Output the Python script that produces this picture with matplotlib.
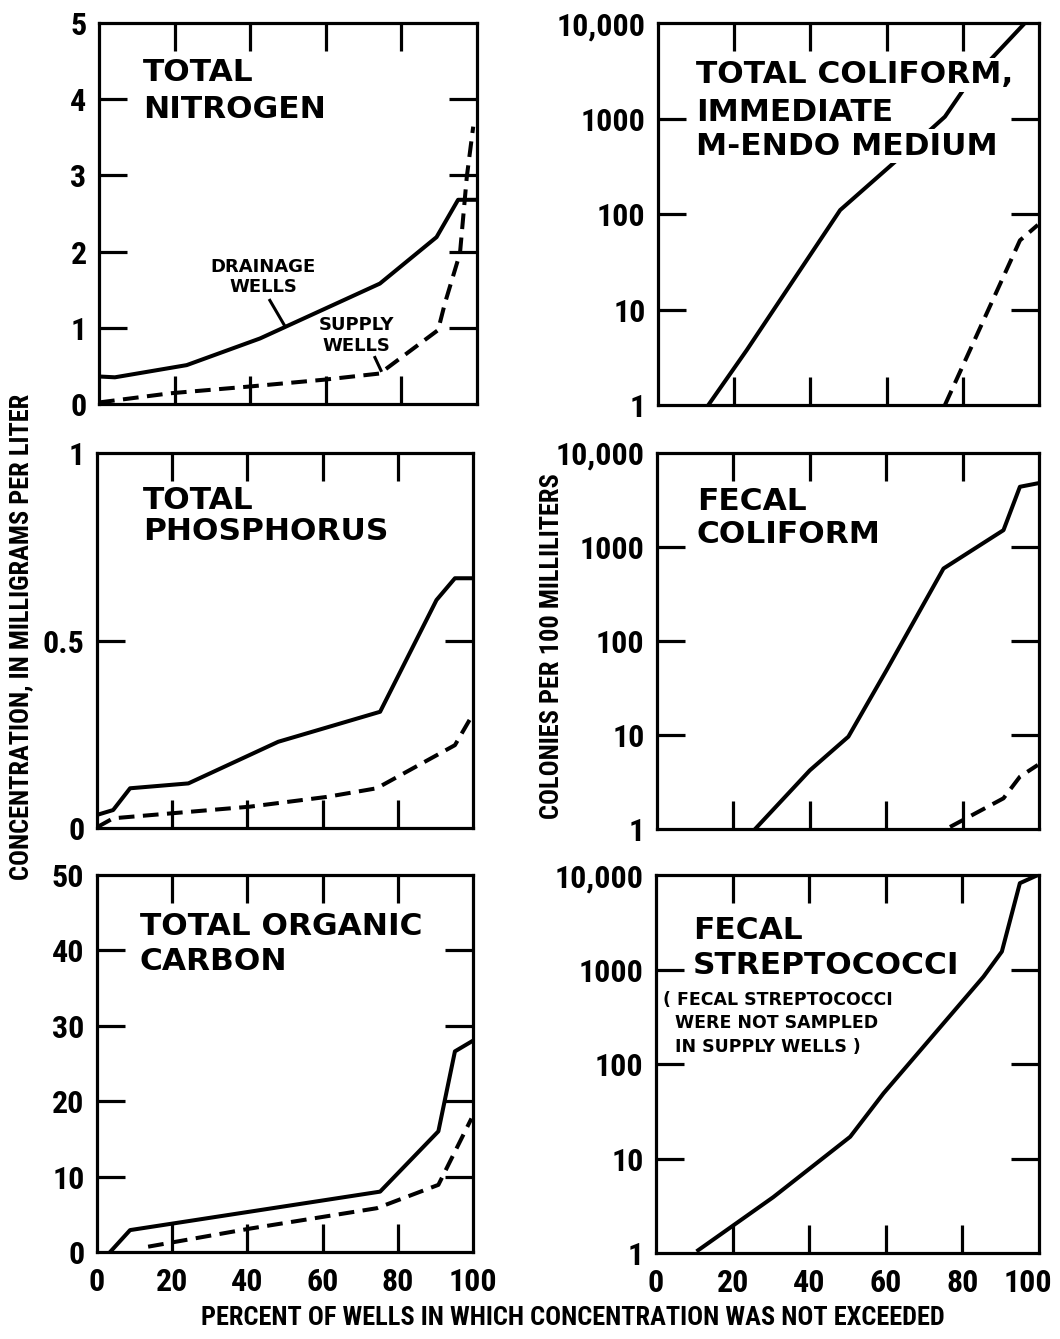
import matplotlib
matplotlib.use("Agg")
import matplotlib.pyplot as plt
from matplotlib import font_manager
from matplotlib.transforms import ScaledTranslation

# ---------------- data ----------------
pct_ticks = [0, 20, 40, 60, 80, 100]
pct_tick_labels = ["0", "20", "40", "60", "80", "100"]

# Total nitrogen (mg/L)
tn_drain_x = [0.3, 4.2, 23.2, 42.6, 74.3, 89.3, 95.0, 100.0]
tn_drain_y = [0.36, 0.35, 0.51, 0.86, 1.58, 2.19, 2.68, 2.68]
tn_supply_x = [0.0, 18.8, 40.0, 59.8, 74.3, 89.7, 91.5, 95.5, 97.3, 99.0]
tn_supply_y = [0.02, 0.14, 0.23, 0.32, 0.40, 0.97, 1.32, 1.98, 2.98, 3.64]
tn_ticks = [0, 1, 2, 3, 4, 5]
tn_labels = ["0", "1", "2", "3", "4", "5"]

# Total phosphorus (mg/L)
tp_drain_x = [0.0, 4.3, 8.8, 24.3, 48.2, 75.3, 90.3, 95.2, 100.0]
tp_drain_y = [0.035, 0.048, 0.106, 0.119, 0.23, 0.31, 0.608, 0.666, 0.666]
tp_supply_x = [0.0, 4.3, 40.7, 61.1, 74.4, 95.2, 99.6]
tp_supply_y = [0.002, 0.026, 0.057, 0.083, 0.106, 0.221, 0.297]
tp_ticks = [0, 0.5, 1]
tp_labels = ["0", "0.5", "1"]

# Total organic carbon (mg/L)
toc_drain_x = [3.5, 8.8, 75.3, 90.8, 95.2, 99.6]
toc_drain_y = [0.0, 2.9, 8.0, 16.0, 26.6, 27.9]
toc_supply_x = [13.6, 40.7, 74.4, 90.8, 99.6]
toc_supply_y = [0.7, 3.1, 5.8, 8.9, 17.7]
toc_ticks = [0, 10, 20, 30, 40, 50]
toc_labels = ["0", "10", "20", "30", "40", "50"]

# Total coliform, immediate M-Endo medium (colonies / 100 mL)
tc_drain_x = [13.2, 23.3, 47.8, 62.7, 75.3, 81.0, 96.3]
tc_drain_y = [1.0, 3.77, 110, 367, 1045, 2240, 10000]
tc_supply_x = [75.3, 95.0, 99.7]
tc_supply_y = [1.0, 53, 77]

# Fecal coliform
fc_drain_x = [25.7, 40.0, 50.1, 60.1, 75.0, 90.7, 95.0, 99.7]
fc_drain_y = [1.0, 4.2, 9.6, 49, 590, 1510, 4370, 4760]
fc_supply_x = [76.7, 90.7, 95.0, 99.7]
fc_supply_y = [1.05, 2.12, 3.6, 4.8]

# Fecal streptococci
fs_drain_x = [11.0, 30.6, 50.7, 59.4, 85.5, 90.3, 95.0, 99.7]
fs_drain_y = [1.07, 3.9, 17, 49, 840, 1550, 8200, 10000]

log_ticks = [1, 10, 100, 1000, 10000]
log_labels = ["1", "10", "100", "1000", "10,000"]

# ---------------- fonts ----------------
fl = font_manager.fontManager.ttflist
names = {f.name for f in fl}
NARROW_KW = None
for cand in ["Liberation Sans Narrow", "Roboto Condensed", "Open Sans Condensed",
             "Noto Sans Condensed", "Arial Narrow"]:
    if cand in names:
        NARROW_KW = dict(family=[cand, "DejaVu Sans"])
        NARROW_SCALE = 1.0
        break
if NARROW_KW is None:
    if any(f.name == "DejaVu Sans" and "condensed" in str(f.stretch) for f in fl):
        NARROW_KW = dict(family=["DejaVu Sans"], stretch="condensed")
        NARROW_SCALE = 0.85
    else:
        NARROW_KW = dict(family=["DejaVu Sans"])
        NARROW_SCALE = 0.68
WIDE = ["DejaVu Sans"]

TICK_FS = 23 * NARROW_SCALE if NARROW_SCALE < 1 else 23
TICK_FS = 15.5 if NARROW_SCALE < 0.7 else TICK_FS
LABEL_FS = 14 if NARROW_SCALE < 0.7 else 19

LW = 2.9
DASH = (0, (3.9, 2.1))

fig = plt.figure(figsize=(10.6, 13.39), dpi=100)

positions = {
    "tl": [0.0934, 0.6983, 0.3566, 0.2845],
    "tr": [0.6208, 0.6975, 0.3594, 0.2853],
    "ml": [0.0915, 0.3816, 0.3547, 0.2801],
    "mr": [0.6198, 0.3809, 0.3604, 0.2808],
    "bl": [0.0915, 0.0650, 0.3547, 0.2816],
    "br": [0.6189, 0.0642, 0.3613, 0.2823],
}


def style_axes(ax, yticks, ylabels, ylim, log=False, bottom_labels=False):
    if log:
        ax.set_yscale("log")
    ax.set_xlim(0, 100)
    ax.set_ylim(*ylim)
    ax.set_xticks(pct_ticks)
    ax.set_xticklabels(pct_tick_labels if bottom_labels else [""] * len(pct_ticks))
    ax.set_yticks(yticks)
    ax.set_yticklabels(ylabels)
    ax.minorticks_off()
    for s in ax.spines.values():
        s.set_linewidth(2.3)
    ax.tick_params(axis="both", which="major", direction="in", length=20,
                   width=2.3, top=True, right=True, colors="black")
    ax.tick_params(axis="y", pad=9)
    ax.tick_params(axis="x", pad=11)
    for lab in ax.get_xticklabels() + ax.get_yticklabels():
        lab.set_fontproperties(font_manager.FontProperties(weight="bold", size=TICK_FS, **NARROW_KW))
    # no tick marks at the corners
    for t in (ax.xaxis.get_major_ticks()[0], ax.xaxis.get_major_ticks()[-1],
              ax.yaxis.get_major_ticks()[0], ax.yaxis.get_major_ticks()[-1]):
        t.tick1line.set_visible(False)
        t.tick2line.set_visible(False)


def title(ax, lines, x, ys, size=22.5):
    for line, y in zip(lines, ys):
        ax.text(x, y, line, transform=ax.transAxes, ha="left", va="center",
                family=WIDE, fontweight="bold", fontsize=size, zorder=5,
                bbox=dict(facecolor="white", edgecolor="none", pad=1.5))


def note(ax, lines, x, ys, size=13, ha="left", transform=None):
    for line, y in zip(lines, ys):
        ax.text(x, y, line, transform=transform or ax.transAxes, ha=ha, va="center",
                family=WIDE, fontweight="bold", fontsize=size, zorder=5)


# Total nitrogen
ax = fig.add_axes(positions["tl"])
ax.plot(tn_drain_x, tn_drain_y, color="black", lw=LW)
ax.plot(tn_supply_x, tn_supply_y, color="black", lw=LW, linestyle=DASH)
style_axes(ax, tn_ticks, tn_labels, (0, 5))
title(ax, ["TOTAL", "NITROGEN"], 0.116, [0.869, 0.772])
note(ax, ["DRAINAGE", "WELLS"], 43.4, [1.80, 1.54], ha="center", transform=ax.transData)
ax.plot([45.2, 49.2], [1.36, 1.02], color="black", lw=2.2)
note(ax, ["SUPPLY", "WELLS"], 68.2, [1.04, 0.76], ha="center", transform=ax.transData)
ax.plot([73.0, 74.6], [0.61, 0.44], color="black", lw=2.2)

# Total coliform
ax = fig.add_axes(positions["tr"])
ax.plot(tc_drain_x, tc_drain_y, color="black", lw=LW)
ax.plot(tc_supply_x, tc_supply_y, color="black", lw=LW, linestyle=DASH)
style_axes(ax, log_ticks, log_labels, (1, 10000), log=True)
title(ax, ["TOTAL COLIFORM,", "IMMEDIATE", "M-ENDO MEDIUM"], 0.10, [0.864, 0.767, 0.678])

# Total phosphorus
ax = fig.add_axes(positions["ml"])
ax.plot(tp_drain_x, tp_drain_y, color="black", lw=LW)
ax.plot(tp_supply_x, tp_supply_y, color="black", lw=LW, linestyle=DASH)
style_axes(ax, tp_ticks, tp_labels, (0, 1))
title(ax, ["TOTAL", "PHOSPHORUS"], 0.122, [0.872, 0.790])

# Fecal coliform
ax = fig.add_axes(positions["mr"])
ax.plot(fc_drain_x, fc_drain_y, color="black", lw=LW)
ax.plot(fc_supply_x, fc_supply_y, color="black", lw=LW, linestyle=DASH)
style_axes(ax, log_ticks, log_labels, (1, 10000), log=True)
title(ax, ["FECAL", "COLIFORM"], 0.104, [0.870, 0.782])

# Total organic carbon
ax = fig.add_axes(positions["bl"])
ax.plot(toc_drain_x, toc_drain_y, color="black", lw=LW)
ax.plot(toc_supply_x, toc_supply_y, color="black", lw=LW, linestyle=DASH)
style_axes(ax, toc_ticks, toc_labels, (0, 50), bottom_labels=True)
title(ax, ["TOTAL ORGANIC", "CARBON"], 0.114, [0.863, 0.770])

# Fecal streptococci
ax = fig.add_axes(positions["br"])
ax.plot(fs_drain_x, fs_drain_y, color="black", lw=LW)
style_axes(ax, log_ticks, log_labels, (1, 10000), log=True, bottom_labels=True)
title(ax, ["FECAL", "STREPTOCOCCI"], 0.097, [0.854, 0.762])
note(ax, ["( FECAL STREPTOCOCCI", "  WERE NOT SAMPLED", "  IN SUPPLY WELLS )"],
     0.018, [0.669, 0.608, 0.546], size=12.5)
last = ax.xaxis.get_major_ticks()[-1].label1
last.set_transform(last.get_transform() + ScaledTranslation(-11 / 100, 0, fig.dpi_scale_trans))

# axis labels
lab_fp = font_manager.FontProperties(weight="bold", size=LABEL_FS, **NARROW_KW)
fig.text(0.0198, 0.524, "CONCENTRATION, IN MILLIGRAMS PER LITER", rotation=90,
         ha="center", va="center", fontproperties=lab_fp)
fig.text(0.521, 0.5176, "COLONIES PER 100 MILLILITERS", rotation=90,
         ha="center", va="center", fontproperties=lab_fp)
fig.text(0.540, 0.0157, "PERCENT OF WELLS IN WHICH CONCENTRATION WAS NOT EXCEEDED",
         ha="center", va="center", fontproperties=lab_fp)

fig.savefig("out.png", dpi=100, facecolor="white")
